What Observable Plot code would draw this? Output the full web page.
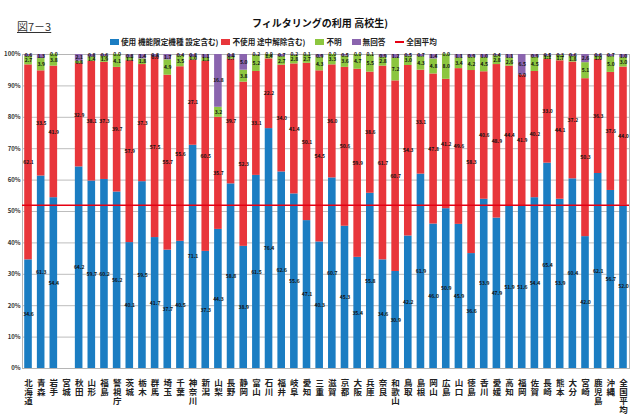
<!DOCTYPE html>
<html lang="ja">
<head>
<meta charset="utf-8">
<script src="https://cdn.jsdelivr.net/npm/d3@7"></script>
<script src="https://cdn.jsdelivr.net/npm/@observablehq/plot@0.6"></script>
<style>
  html, body { margin: 0; padding: 0; background: #fff; }
  #wrap { position: relative; width: 640px; height: 414px; overflow: hidden; font-family: "Noto Sans CJK JP", "Noto Sans", sans-serif; }
  #fig { position: absolute; left: 17px; top: 18px; font-size: 11px; color: #333; text-decoration: underline; }
  #title { position: absolute; left: 0; width: 640px; top: 15px; text-align: center; font-size: 10px; font-weight: bold; color: #111; }
  #legend { position: absolute; left: 110px; top: 36px; font-size: 7.6px; font-weight: bold; color: #222; white-space: nowrap; display: flex; align-items: center; }
  #legend span.item { display: inline-flex; align-items: center; margin-right: 10px; }
  #legend span.item.first { margin-right: 3px; }
  #legend i.sw { display: inline-block; width: 9px; height: 6px; margin-right: 2px; }
  #legend i.ln { display: inline-block; width: 9px; height: 2px; margin-right: 2px; }
  #chart { position: absolute; left: 0; top: 48px; }
</style>
</head>
<body>
<div id="wrap">
  <div id="fig">図7－3</div>
  <div id="title">フィルタリングの利用 高校生)</div>
  <div id="legend"></div>
  <div id="chart"></div>
</div>
<script>
const prefectures = ["北海道","青森","岩手","宮城","秋田","山形","福島","警視庁","茨城","栃木","群馬","埼玉","千葉","神奈川","新潟","山梨","長野","静岡","富山","石川","福井","岐阜","愛知","三重","滋賀","京都","大阪","兵庫","奈良","和歌山","鳥取","島根","岡山","広島","山口","徳島","香川","愛媛","高知","福岡","佐賀","長崎","熊本","大分","宮崎","鹿児島","沖縄","全国平均"];

const seriesNames = ["使用 機能限定機種 設定含む)", "不使用 途中解除含む)", "不明", "無回答"];
const seriesColors = ["#1b7dc2", "#e8363b", "#8cc63f", "#8a64ae"];
const avgLabel = "全国平均";
const avgColor = "#e60012";

const useValues = [34.6,61.3,54.4,null,64.2,59.7,60.2,56.2,40.1,59.5,41.7,37.7,40.5,71.1,37.3,44.3,58.8,38.9,61.5,76.4,62.6,55.6,47.1,40.3,60.7,45.3,35.4,55.8,34.6,30.9,42.2,61.9,46.0,50.9,45.9,36.6,53.9,47.9,51.9,51.6,54.4,65.4,53.9,60.4,42.0,62.1,56.7,52.0];
const notUseValues = [62.1,33.5,41.9,null,32.9,38.1,37.3,39.7,57.9,37.3,57.5,55.7,55.6,27.1,60.5,35.7,39.7,52.3,33.1,22.2,34.0,41.4,50.1,54.5,36.0,50.6,59.9,38.6,61.7,60.7,54.3,33.1,47.8,41.2,49.6,58.3,40.6,48.9,44.4,41.9,40.2,33.0,44.1,37.2,50.3,36.3,37.6,44.0];
const unknownValues = [2.7,3.9,3.8,null,0.8,1.4,1.9,4.1,1.1,1.8,0.0,4.9,3.5,1.0,1.1,3.2,0.7,3.8,5.2,1.4,2.7,2.8,2.7,4.3,3.3,3.6,4.7,5.5,2.8,7.2,3.0,4.3,4.8,8.0,3.4,4.2,4.5,2.8,2.6,0.0,4.5,1.1,1.7,1.8,5.1,1.0,5.0,3.0];
const noAnswerValues = [0.6,1.3,0.0,null,2.1,0.8,0.6,0.0,0.8,1.4,0.8,1.7,0.4,0.8,1.1,16.8,0.8,5.0,0.2,0.0,0.7,0.2,0.1,0.9,0.0,0.5,0.0,0.1,0.9,1.2,0.5,0.7,1.4,0.0,1.1,0.9,1.0,0.4,1.1,6.5,0.9,0.5,0.3,0.6,2.6,0.6,0.7,1.0];
const nationalAverage = 52.0;
const yTicks = [0,10,20,30,40,50,60,70,80,90,100];

const seriesValues = [useValues, notUseValues, unknownValues, noAnswerValues];
const rows = [];
seriesValues.forEach((vals, s) => {
  vals.forEach((v, i) => {
    if (v !== null) rows.push({pref: prefectures[i], series: seriesNames[s], value: v});
  });
});

// legend
const legend = document.getElementById("legend");
seriesNames.forEach((n, i) => {
  const it = document.createElement("span");
  it.className = "item" + (i === 0 ? " first" : "");
  it.innerHTML = `<i class="sw" style="background:${seriesColors[i]}"></i>${n}`;
  legend.appendChild(it);
});
const avgItem = document.createElement("span");
avgItem.className = "item";
avgItem.innerHTML = `<i class="ln" style="background:${avgColor}"></i>${avgLabel}`;
legend.appendChild(avgItem);

const fontFamily = '"Noto Sans CJK JP", "Noto Sans", sans-serif';
const chart = Plot.plot({
  width: 640,
  height: 366,
  marginTop: 6,
  marginBottom: 46,
  marginLeft: 22,
  marginRight: 11,
  style: {fontFamily, background: "white", overflow: "visible"},
  x: {domain: prefectures, paddingInner: 0.4, paddingOuter: 0.175, label: null},
  y: {domain: [0, 100], label: null},
  color: {domain: seriesNames, range: seriesColors},
  marks: [
    Plot.gridY(yTicks, {stroke: "#bdbdbd", strokeOpacity: 1}),
    Plot.frame({stroke: "#b5b5b5"}),
    Plot.barY(rows, {x: "pref", y: "value", fill: "series", z: "series"}),
    Plot.ruleY([nationalAverage], {stroke: avgColor, strokeWidth: 1.6}),
    Plot.text(rows, Plot.stackY({x: "pref", y: "value", z: "series", text: d => d.value.toFixed(1), fontSize: 5, fontWeight: "bold", fill: "#111"})),
    Plot.axisY(yTicks, {tickFormat: d => d + "%", tickSize: 0, tickPadding: 2, fontSize: 6, fontWeight: "bold", color: "#333", label: null}),
    Plot.axisX({tickSize: 0, tickPadding: 11, fontSize: 8.5, fontWeight: "bold", color: "#222", lineHeight: 1.05, tickFormat: d => d.split("").join("\n"), label: null})
  ]
});
document.getElementById("chart").appendChild(chart);
</script>
</body>
</html>
